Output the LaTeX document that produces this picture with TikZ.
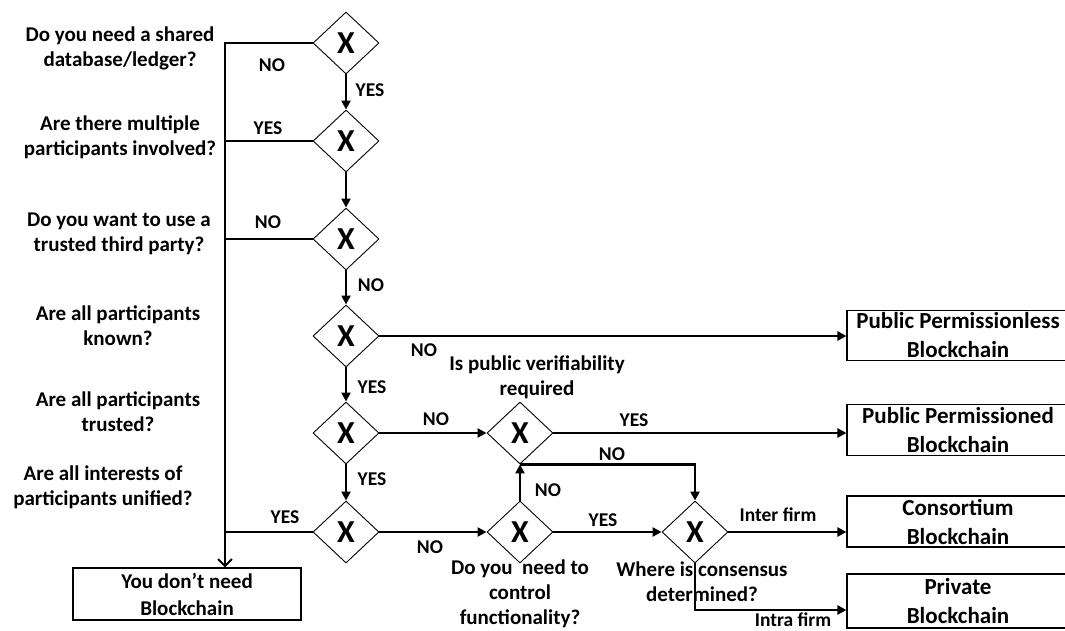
\documentclass[tikz,border=0pt]{standalone}
\usepackage{fontspec}
\setmainfont{Carlito}
\usetikzlibrary{shapes.geometric,arrows.meta}

\begin{document}
\begin{tikzpicture}[x=1pt,y=-1pt,
  dec/.style={draw,shape=diamond,minimum width=66pt,minimum height=62pt,
    inner sep=0pt,line width=0.9pt,font=\bfseries\fontsize{32}{32}\selectfont},
  qtext/.style={align=center,inner sep=0pt,font=\bfseries\fontsize{21}{25}\selectfont},
  lab/.style={inner sep=0pt,font=\bfseries\fontsize{19.5}{22}\selectfont},
  outbox/.style={draw,line width=1.1pt,align=center,inner sep=0pt,
    minimum width=222pt,font=\bfseries\fontsize{23}{29}\selectfont},
  nobox/.style={draw,line width=1.1pt,align=center,inner sep=0pt,
    minimum width=228pt,minimum height=52pt,font=\bfseries\fontsize{21}{27}\selectfont},
  conn/.style={line width=2.4pt},
  arr/.style={conn,-{Triangle[length=9pt,width=9pt]}},
  barb/.style={conn,-{Straight Barb[length=7pt,width=14pt,line width=2pt]}}
]
\useasboundingbox (0,0) rectangle (1065,630);
\clip (0,0) rectangle (1065,630);

% decision column
\node[dec] (d1) at (346,43) {X};
\node[dec] (d2) at (346,141) {X};
\node[dec] (d3) at (346,239) {X};
\node[dec] (d4) at (346,336) {X};
\node[dec] (d5) at (346,433) {X};
\node[dec] (d6) at (346,532) {X};

% further decisions
\node[dec] (dp) at (520,433) {X};
\node[dec] (dc) at (520,532) {X};
\node[dec] (dw) at (695,532) {X};

% questions
\node[qtext] (q1) at (120,48) {Do you need a shared\\database/ledger?};
\node[qtext] (q2) at (120,137) {Are there multiple\\participants involved?};
\node[qtext] (q3) at (119,234) {Do you want to use a\\trusted third party?};
\node[qtext] (q4) at (118,326) {Are all participants\\known?};
\node[qtext] (q5) at (118,412) {Are all participants\\trusted?};
\node[qtext] (q6) at (103,487) {Are all interests of\\participants unified?};
\node[qtext] (qp) at (537,377) {Is public verifiability\\required};
\node[qtext] (qc) at (520,594) {Do you\ \ need to\\control\\functionality?};
\node[qtext] (qw) at (702,582) {Where is consensus\\determined?};

% outcomes
\node[nobox] (nob) at (187,594) {You don’t need\\Blockchain};
\node[outbox,minimum height=50pt] (ppl) at (958,335.5) {Public Permissionless\\Blockchain};
\node[outbox,minimum height=51pt] (ppd) at (958,430) {Public Permissioned\\Blockchain};
\node[outbox,minimum height=51pt] (cons) at (958,521.5) {Consortium\\Blockchain};
\node[outbox,minimum height=54pt] (priv) at (958,601) {Private\\Blockchain};

% the "no blockchain" spine on the left
\coordinate (spine) at (225,0);
\draw[barb] (d1.west) -- (d1.west -| spine) -- (spine |- nob.north);
\draw[conn] (d2.west) -- (d2.west -| spine);
\draw[conn] (d3.west) -- (d3.west -| spine);
\draw[conn] (d6.west) -- (d6.west -| spine);

% main column
\draw[arr] (d1.south) -- (d2.north);
\draw[arr] (d2.south) -- (d3.north);
\draw[arr] (d3.south) -- (d4.north);
\draw[arr] (d4.south) -- (d5.north);
\draw[arr] (d5.south) -- (d6.north);

% branches to the right
\draw[arr] (d4.east) -- (d4.east -| ppl.west);
\draw[arr] (d5.east) -- (dp.west);
\draw[arr] (dp.east) -- (dp.east -| ppd.west);
\draw[arr] (d6.east) -- (dc.west);
\draw[arr] (dc.north) -- (dp.south);
\draw[arr] (dp.south) -- (dp.south -| dw.north) -- (dw.north);
\draw[arr] (dc.east) -- (dw.west);
\draw[arr] (dw.east) -- (dw.east -| cons.west);
\coordinate (intra) at (695,610);
\draw[arr] (dw.south) -- (intra) -- (intra -| priv.west);

% branch labels
\node[lab] at (272,65) {NO};
\node[lab] at (370,90) {YES};
\node[lab] at (268,128) {YES};
\node[lab] at (268,222) {NO};
\node[lab] at (371,285) {NO};
\node[lab] at (372,387) {YES};
\node[lab] at (372,479) {YES};
\node[lab] at (285,517) {YES};
\node[lab] at (424,350) {NO};
\node[lab] at (436,419) {NO};
\node[lab] at (634,420) {YES};
\node[lab] at (612,454) {NO};
\node[lab] at (548,490) {NO};
\node[lab] at (603,520) {YES};
\node[lab] at (430,547) {NO};
\node[lab] at (778,515) {Inter firm};
\node[lab] at (793,620) {Intra firm};
\end{tikzpicture}
\end{document}
